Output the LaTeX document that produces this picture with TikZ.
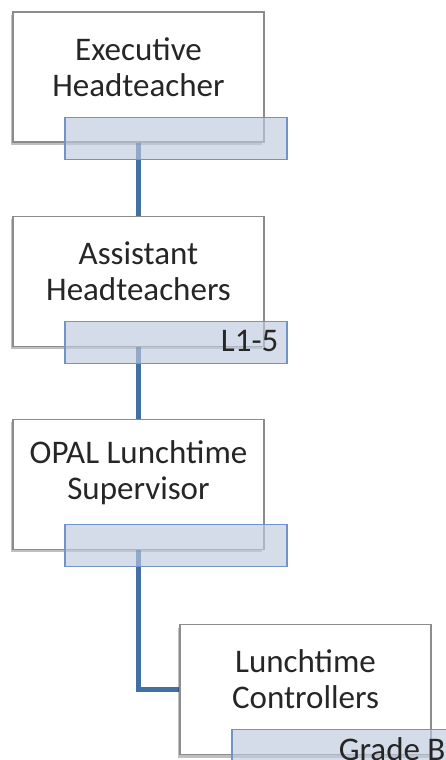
\documentclass[tikz,border=0pt]{standalone}
\usepackage{fontspec}
\setmainfont{Carlito}
\usetikzlibrary{positioning,shadows,backgrounds}

\definecolor{tagfill}{RGB}{190,201,222}
\definecolor{tagline}{RGB}{114,147,197}
\definecolor{linkblue}{RGB}{66,112,164}

\begin{document}
\begin{tikzpicture}[
  x=1pt, y=1pt,
  font=\fontsize{33}{36}\selectfont,
  card/.style={draw=black!45, line width=1.2pt, fill=white, minimum width=251pt, minimum height=130pt, inner sep=0pt,
    drop shadow={shadow xshift=-2pt, shadow yshift=-3pt, opacity=0.25, fill=black}},
  cardtext/.style={align=center, text=black!85, inner sep=0pt},
  tag/.style={draw=tagline, line width=1.2pt, fill=tagfill, fill opacity=0.65,
    minimum width=222pt, minimum height=42pt, inner sep=0pt, anchor=north west},
  tagtext/.style={text=black!85, inner sep=0pt, anchor=base east},
  link/.style={draw=linkblue, line width=4.5pt}
]
\clip[use as bounding box] (0,0) rectangle (446,-760);

\node[card] (exec) at (138.5,-77) {};
\node[cardtext] (exec-text) at ([yshift=10pt]exec.center) {Executive\\Headteacher};
\node[tag] (exec-tag) at ([xshift=52pt,yshift=26pt]exec.south west) {};

\node[card, below=73pt of exec] (asst) {};
\node[cardtext] (asst-text) at ([yshift=10pt]asst.center) {Assistant\\Headteachers};
\node[tag] (asst-tag) at ([xshift=52pt,yshift=26pt]asst.south west) {};
\node[tagtext] (asst-grade) at ([xshift=-9pt,yshift=-9.5pt]asst-tag.east) {L1-5};

\node[card, below=72pt of asst] (opal) {};
\node[cardtext] (opal-text) at ([yshift=12pt]opal.center) {OPAL Lunchtime\\Supervisor};
\node[tag] (opal-tag) at ([xshift=52pt,yshift=26pt]opal.south west) {};

\node[card, anchor=north west] (ctrl) at ([xshift=167pt,yshift=-74pt]opal.south west) {};
\node[cardtext] (ctrl-text) at ([yshift=10pt]ctrl.center) {Lunchtime\\Controllers};
\node[tag] (ctrl-tag) at ([xshift=52pt,yshift=26pt]ctrl.south west) {};
\node[tagtext] (ctrl-grade) at ([xshift=-9pt,yshift=-10pt]ctrl-tag.east) {Grade B};

% reporting lines sit behind the cards
\begin{scope}[on background layer]
  \draw[link] (exec) -- (asst);
  \draw[link] (asst) -- (opal);
  \draw[link] (opal) |- (ctrl);
\end{scope}
\end{tikzpicture}
\end{document}
